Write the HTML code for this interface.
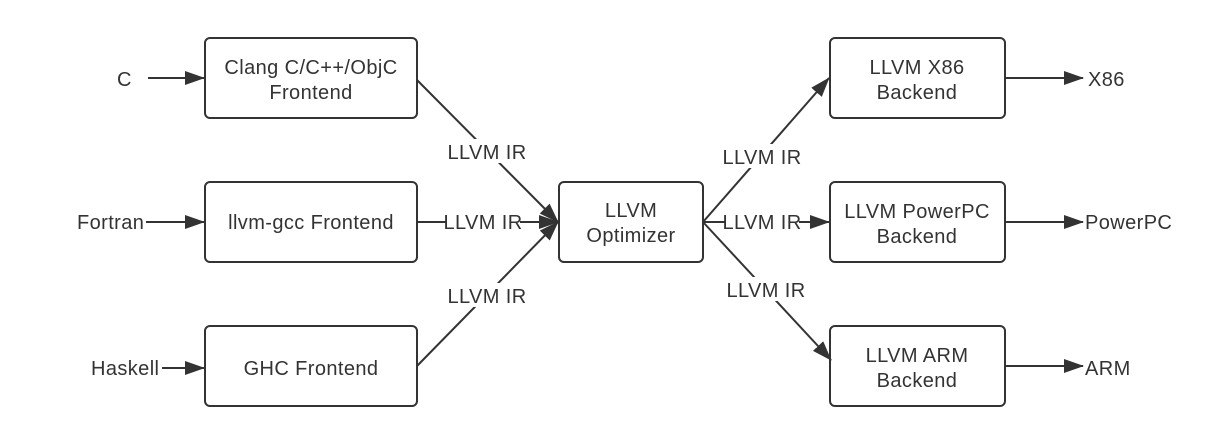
<!DOCTYPE html>
<html><head><style>
html,body{margin:0;padding:0;background:#fff;}
svg{display:block;}
text{font-family:"Liberation Sans","Noto Sans CJK SC",sans-serif;font-size:20px;letter-spacing:0.4px;fill:#333;}
</style></head><body>
<svg width="1227" height="445" viewBox="0 0 1227 445" xmlns="http://www.w3.org/2000/svg">
<defs>
<marker id="b" markerWidth="20" markerHeight="16" refX="19" refY="8" orient="auto" markerUnits="userSpaceOnUse" viewBox="0 0 20 16">
<path d="M0,1 L20,8 L0,15 z" fill="#333"/></marker>
</defs>
<g stroke="#333" stroke-width="2" fill="none">
<rect x="205" y="38" width="212" height="80" rx="5"/>
<rect x="205" y="182" width="212" height="80" rx="5"/>
<rect x="205" y="326" width="212" height="80" rx="5"/>
<rect x="559" y="182" width="144" height="80" rx="5"/>
<rect x="830" y="38" width="175" height="80" rx="5"/>
<rect x="830" y="182" width="175" height="80" rx="5"/>
<rect x="830" y="326" width="175" height="80" rx="5"/>
<line x1="148" y1="78" x2="204" y2="78" marker-end="url(#b)"/>
<line x1="146" y1="222" x2="204" y2="222" marker-end="url(#b)"/>
<line x1="162" y1="368" x2="204" y2="368" marker-end="url(#b)"/>
<line x1="1005" y1="78" x2="1083" y2="78" marker-end="url(#b)"/>
<line x1="1005" y1="222" x2="1083" y2="222" marker-end="url(#b)"/>
<line x1="1005" y1="366" x2="1083" y2="366" marker-end="url(#b)"/>
<line x1="417" y1="80" x2="558" y2="222" marker-end="url(#b)"/>
<line x1="417" y1="222" x2="558" y2="222" marker-end="url(#b)"/>
<line x1="417" y1="366" x2="558" y2="222" marker-end="url(#b)"/>
<line x1="703" y1="222" x2="829" y2="78" marker-end="url(#b)"/>
<line x1="703" y1="222" x2="829" y2="222" marker-end="url(#b)"/>
<line x1="703" y1="222" x2="831" y2="360" marker-end="url(#b)"/>
</g>
<g fill="#fff">
<rect x="446" y="139" width="82" height="24"/>
<rect x="446" y="210" width="74" height="24"/>
<rect x="446" y="283" width="82" height="24"/>
<rect x="721" y="144" width="82" height="24"/>
<rect x="725" y="210" width="74" height="24"/>
<rect x="725" y="277" width="82" height="24"/>
</g>
<g text-anchor="middle">
<text x="487" y="159">LLVM IR</text>
<text x="483" y="229">LLVM IR</text>
<text x="487" y="303">LLVM IR</text>
<text x="762" y="164">LLVM IR</text>
<text x="762" y="229">LLVM IR</text>
<text x="766" y="297">LLVM IR</text>
<text x="311" y="74">Clang C/C++/ObjC</text>
<text x="311" y="99">Frontend</text>
<text x="311" y="229">llvm-gcc Frontend</text>
<text x="311" y="375">GHC Frontend</text>
<text x="631" y="217">LLVM</text>
<text x="631" y="242">Optimizer</text>
<text x="917" y="74">LLVM X86</text>
<text x="917" y="99">Backend</text>
<text x="917" y="218">LLVM PowerPC</text>
<text x="917" y="243">Backend</text>
<text x="917" y="362">LLVM ARM</text>
<text x="917" y="387">Backend</text>
</g>
<text x="117" y="86">C</text>
<text x="77" y="229">Fortran</text>
<text x="91" y="375">Haskell</text>
<text x="1088" y="86">X86</text>
<text x="1085" y="229">PowerPC</text>
<text x="1085" y="375">ARM</text>
</svg>
</body></html>
